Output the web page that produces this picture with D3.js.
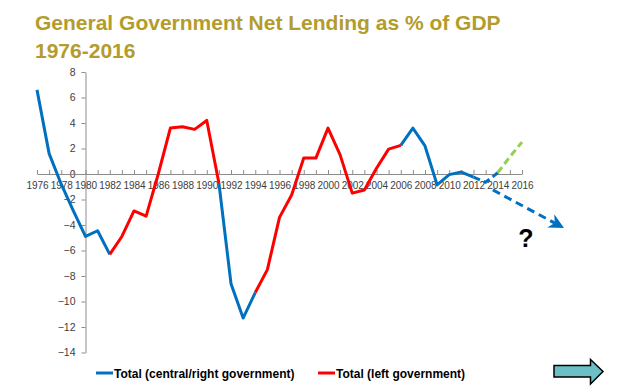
<!DOCTYPE html>
<html>
<head>
<meta charset="utf-8">
<script src="https://cdn.jsdelivr.net/npm/d3@7"></script>
<style>
  body { margin: 0; background: #fff; }
  svg { display: block; font-family: "Liberation Sans", Arial, sans-serif; }
  .axis path, .axis line { stroke: #8c8c8c; stroke-width: 1; }
  .axis text { fill: #404040; font-size: 10px; }
</style>
</head>
<body>
<div></div>
<script>
var years = d3.range(1976, 2017),
	yTicks = [8, 6, 4, 2, 0, -2, -4, -6, -8, -10, -12, -14];

// central/right government, null where left was in power
var rightValues = [6.6, 1.6, -0.8, -2.9, -4.9, -4.45, -6.3,
	null, null, null, null, null, null, null, null,
	-0.7, -8.6, -11.3, -9.3,
	null, null, null, null, null, null, null, null, null, null, null,
	2.25, 3.6, 2.2, -0.85, -0.05, 0.15, -0.25,
	null, null, null, null];

var leftValues = [null, null, null, null, null, null,
	-6.3, -4.9, -2.9, -3.3, 0.0, 3.6, 3.7, 3.5, 4.2, -0.7,
	null, null,
	-9.3, -7.5, -3.4, -1.65, 1.25, 1.25, 3.6, 1.5, -1.5, -1.25, 0.45, 1.95, 2.25,
	null, null, null, null, null, null, null, null, null, null];

// dashed forecasts
var blueForecast = [{year: 2012, value: -0.25}, {year: 2013, value: -0.65}, {year: 2014, value: 0.1}];
var greenForecast = [{year: 2014, value: 0.1}, {year: 2015, value: 1.35}, {year: 2016, value: 2.5}];
var downArrow = [{year: 2013.6, value: -1.25}, {year: 2018.7, value: -3.85}];

var titleLines = ["General Government Net Lending as % of GDP", "1976-2016"];
var legendItems = [
	{label: "Total (central/right government)", color: "#0070c0"},
	{label: "Total (left government)", color: "#ff0000"}
];

var svgContainer = d3.select("div")
	.append("svg")
	.attr("width", 640)
	.attr("height", 389);

var x = d3.scaleLinear().domain([1976, 2016]).range([37, 522]);
var y = d3.scaleLinear().domain([-14, 8]).range([352.5, 72]);

// title
svgContainer.selectAll(".title")
	.data(titleLines)
	.enter().append("text")
	.attr("class", "title")
	.attr("x", 35)
	.attr("y", (d, i) => 30 + i * 28)
	.style("font-size", "21px")
	.style("font-weight", "bold")
	.style("fill", "#b39c2c")
	.text(d => d);

// y axis crosses at 1980
svgContainer.append("g")
	.attr("class", "axis")
	.attr("transform", "translate(" + x(1980) + ",0)")
	.call(d3.axisLeft(y).tickValues(yTicks).tickSizeInner(4).tickSizeOuter(0).tickPadding(6).tickFormat(d3.format("d")))
	.selectAll("text").style("font-size", "10.5px");

svgContainer.append("g")
	.attr("class", "axis")
	.attr("transform", "translate(0," + y(0) + ")")
	.call(d3.axisBottom(x).tickValues(years).tickSizeInner(-4).tickSizeOuter(0).tickPadding(8)
		.tickFormat(d => d % 2 === 0 ? d : ""));

var line = d3.line()
	.defined(d => d.value !== null)
	.x(d => x(d.year))
	.y(d => y(d.value));

function series(values) {
	return years.map((yr, i) => ({year: yr, value: values[i]}));
}

svgContainer.append("path")
	.datum(series(rightValues))
	.attr("d", line)
	.attr("fill", "none")
	.attr("stroke", "#0070c0")
	.attr("stroke-width", 3)
	.attr("stroke-linejoin", "round");

svgContainer.append("path")
	.datum(series(leftValues))
	.attr("d", line)
	.attr("fill", "none")
	.attr("stroke", "#ff0000")
	.attr("stroke-width", 3)
	.attr("stroke-linejoin", "round");

svgContainer.append("path")
	.datum(blueForecast)
	.attr("d", line)
	.attr("fill", "none")
	.attr("stroke", "#0070c0")
	.attr("stroke-width", 3)
	.attr("stroke-dasharray", "7,4");

svgContainer.append("path")
	.datum(greenForecast)
	.attr("d", line)
	.attr("fill", "none")
	.attr("stroke", "#92d050")
	.attr("stroke-width", 3)
	.attr("stroke-dasharray", "7,4");

svgContainer.append("defs").append("marker")
	.attr("id", "head")
	.attr("viewBox", "0 0 10 10")
	.attr("refX", 3)
	.attr("refY", 5)
	.attr("markerWidth", 5)
	.attr("markerHeight", 5)
	.attr("orient", "auto")
	.append("path")
	.attr("d", "M0,0L10,5L0,10L3,5z")
	.attr("fill", "#0070c0");

svgContainer.append("path")
	.datum(downArrow)
	.attr("d", line)
	.attr("fill", "none")
	.attr("stroke", "#0070c0")
	.attr("stroke-width", 3)
	.attr("stroke-dasharray", "8,5")
	.attr("marker-end", "url(#head)");

svgContainer.append("text")
	.attr("x", 526)
	.attr("y", 247)
	.attr("text-anchor", "middle")
	.style("font-size", "25px")
	.style("font-weight", "bold")
	.style("fill", "#000")
	.text("?");

// legend
var legendX = [96, 318];
var legend = svgContainer.selectAll(".legend")
	.data(legendItems)
	.enter().append("g")
	.attr("class", "legend")
	.attr("transform", (d, i) => "translate(" + legendX[i] + ",373)");

legend.append("line")
	.attr("x1", 0).attr("x2", 17)
	.attr("stroke", d => d.color)
	.attr("stroke-width", 3);

legend.append("text")
	.attr("x", 18)
	.attr("y", 4.5)
	.style("font-size", "12px")
	.style("font-weight", "bold")
	.style("fill", "#000")
	.text(d => d.label);

// navigation arrow
svgContainer.append("path")
	.attr("d", "M554,365.5H590.5V359.5L603,371.5L590.5,384V377H554Z")
	.attr("fill", "#6cc0c5")
	.attr("stroke", "#000")
	.attr("stroke-width", 1.5)
	.attr("stroke-linejoin", "miter");
</script>
</body>
</html>
